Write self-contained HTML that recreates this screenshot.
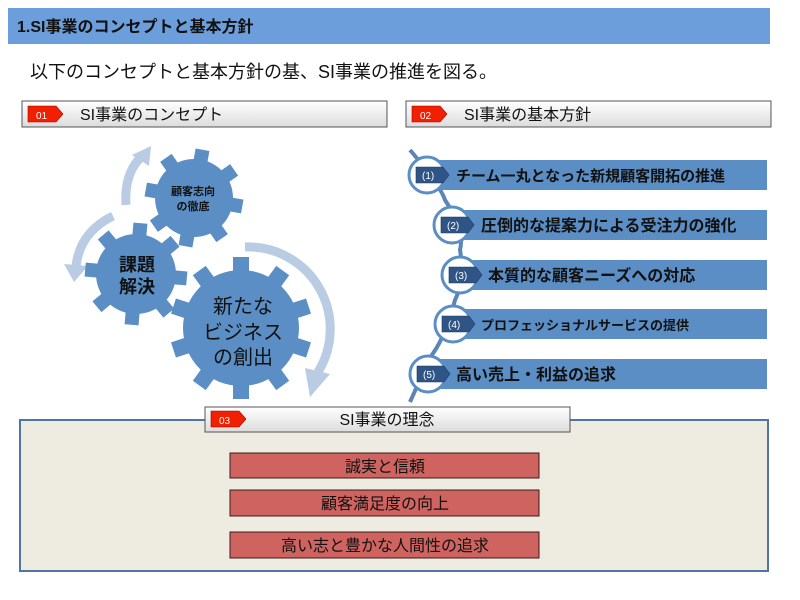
<!DOCTYPE html>
<html><head><meta charset="utf-8"><style>
body{margin:0;width:800px;height:600px;background:#fff;overflow:hidden}
svg{display:block}
text{font-family:"Liberation Sans","Noto Sans CJK JP",sans-serif}
</style></head><body>
<svg width="800" height="600" viewBox="0 0 800 600">
<defs>
<linearGradient id="hg" x1="0" y1="0" x2="0" y2="1"><stop offset="0" stop-color="#fff"/><stop offset="1" stop-color="#dcdcdc"/></linearGradient>
</defs>
<rect x="8" y="8" width="762" height="36" fill="#6b9edb"/>
<text x="17" y="32" font-size="16" font-weight="bold" fill="#111">1.SI事業のコンセプトと基本方針</text>
<text x="30" y="78" font-size="18" fill="#111">以下のコンセプトと基本方針の基、SI事業の推進を図る。</text>

<rect x="22" y="101" width="365" height="26" fill="url(#hg)" stroke="#555"/>
<polygon points="28,106 56,106 63,114 56,122 28,122" fill="#f02000" stroke="#a00" stroke-width="0.6"/>
<text x="36" y="119" font-size="10" fill="#fff">01</text>
<text x="80" y="120" font-size="16" fill="#111">SI事業のコンセプト</text>
<rect x="406" y="101" width="365" height="26" fill="url(#hg)" stroke="#555"/>
<polygon points="412,106 440,106 447,114 440,122 412,122" fill="#f02000" stroke="#a00" stroke-width="0.6"/>
<text x="420" y="119" font-size="10" fill="#fff">02</text>
<text x="464" y="120" font-size="16" fill="#111">SI事業の基本方針</text>

<g fill="none" stroke="#b9cce4" stroke-width="9">
<path d="M245,247 A82,82 0 0 1 318,372"/>
<path d="M113,216 Q80,232 76,266"/>
<path d="M126,205 Q124,175 140,158"/>
</g>
<g fill="#b9cce4">
<polygon points="305,368 330,374 310,397"/>
<polygon points="64,264 88,266 74,282"/>
<polygon points="132,155 149,166 151,146"/>
</g>

<g fill="#5b8ec4">
<g transform="translate(194,198) rotate(10)">
<circle r="39"/>
<rect x="-7" y="-49" width="14" height="16"/><rect x="-7" y="-49" width="14" height="16" transform="rotate(45)"/><rect x="-7" y="-49" width="14" height="16" transform="rotate(90)"/><rect x="-7" y="-49" width="14" height="16" transform="rotate(135)"/><rect x="-7" y="-49" width="14" height="16" transform="rotate(180)"/><rect x="-7" y="-49" width="14" height="16" transform="rotate(225)"/><rect x="-7" y="-49" width="14" height="16" transform="rotate(270)"/><rect x="-7" y="-49" width="14" height="16" transform="rotate(315)"/>
</g>
<g transform="translate(136,274) rotate(5)">
<circle r="40"/>
<rect x="-7" y="-51" width="14" height="16"/><rect x="-7" y="-51" width="14" height="16" transform="rotate(45)"/><rect x="-7" y="-51" width="14" height="16" transform="rotate(90)"/><rect x="-7" y="-51" width="14" height="16" transform="rotate(135)"/><rect x="-7" y="-51" width="14" height="16" transform="rotate(180)"/><rect x="-7" y="-51" width="14" height="16" transform="rotate(225)"/><rect x="-7" y="-51" width="14" height="16" transform="rotate(270)"/><rect x="-7" y="-51" width="14" height="16" transform="rotate(315)"/>
</g>
<g transform="translate(241,328)">
<circle r="58"/>
<rect x="-8" y="-71" width="16" height="20"/><rect x="-8" y="-71" width="16" height="20" transform="rotate(36)"/><rect x="-8" y="-71" width="16" height="20" transform="rotate(72)"/><rect x="-8" y="-71" width="16" height="20" transform="rotate(108)"/><rect x="-8" y="-71" width="16" height="20" transform="rotate(144)"/><rect x="-8" y="-71" width="16" height="20" transform="rotate(180)"/><rect x="-8" y="-71" width="16" height="20" transform="rotate(216)"/><rect x="-8" y="-71" width="16" height="20" transform="rotate(252)"/><rect x="-8" y="-71" width="16" height="20" transform="rotate(288)"/><rect x="-8" y="-71" width="16" height="20" transform="rotate(324)"/>
</g>
</g>
<g fill="#111" font-weight="bold" text-anchor="middle">
<text x="193" y="195" font-size="11">顧客志向</text>
<text x="193" y="210" font-size="11">の徹底</text>
<text x="137" y="271" font-size="18">課題</text>
<text x="137" y="293" font-size="18">解決</text>
<text x="243" y="313" font-size="20" font-weight="normal">新たな</text>
<text x="243" y="339" font-size="20" font-weight="normal">ビジネス</text>
<text x="243" y="364" font-size="20" font-weight="normal">の創出</text>
</g>

<path d="M410,150 Q440,185 445,200 Q465,230 460,250 Q465,280 455,300 Q445,340 428,360 Q420,380 410,402" fill="none" stroke="#5b84b8" stroke-width="4"/>
<g fill="#5b8ec4">
<rect x="427" y="160" width="340" height="30"/>
<rect x="452" y="210" width="315" height="30"/>
<rect x="460" y="260" width="307" height="30"/>
<rect x="453" y="309" width="314" height="30"/>
<rect x="428" y="359" width="339" height="30"/>
</g>
<g fill="#fff" stroke="#5b8ec4" stroke-width="3">
<circle cx="427" cy="175" r="18"/>
<circle cx="452" cy="225" r="18"/>
<circle cx="460" cy="275" r="18"/>
<circle cx="453" cy="324" r="18"/>
<circle cx="428" cy="374" r="18"/>
</g>
<g fill="#2f5586" stroke="#1e3a60" stroke-width="0.6">
<polygon points="416,167 443,167 449,175 443,183 416,183"/>
<polygon points="441,217 468,217 474,225 468,233 441,233"/>
<polygon points="449,267 476,267 482,275 476,283 449,283"/>
<polygon points="442,316 469,316 475,324 469,332 442,332"/>
<polygon points="417,366 444,366 450,374 444,382 417,382"/>
</g>
<g fill="#fff" font-size="10">
<text x="422" y="179">(1)</text><text x="447" y="229">(2)</text><text x="455" y="279">(3)</text><text x="448" y="328">(4)</text><text x="423" y="378">(5)</text>
</g>
<g fill="#111" font-weight="bold" font-size="16">
<text x="456" y="181" font-size="15">チーム一丸となった新規顧客開拓の推進</text>
<text x="481" y="231">圧倒的な提案力による受注力の強化</text>
<text x="488" y="281">本質的な顧客ニーズへの対応</text>
<text x="481" y="330" font-size="13">プロフェッショナルサービスの提供</text>
<text x="456" y="380">高い売上・利益の追求</text>
</g>

<rect x="20" y="420" width="748" height="151" fill="#eeece1" stroke="#4f75a8" stroke-width="2"/>
<rect x="205" y="407" width="365" height="25" fill="url(#hg)" stroke="#555"/>
<polygon points="211,411 239,411 246,419 239,427 211,427" fill="#f02000" stroke="#a00" stroke-width="0.6"/>
<text x="219" y="424" font-size="10" fill="#fff">03</text>
<text x="387" y="425" font-size="16" fill="#111" text-anchor="middle">SI事業の理念</text>
<g fill="#cf6360" stroke="#3a1a1a" stroke-width="1">
<rect x="230" y="453" width="309" height="25"/>
<rect x="230" y="490" width="309" height="26"/>
<rect x="230" y="532" width="309" height="26"/>
</g>
<g fill="#111" font-size="16" text-anchor="middle">
<text x="385" y="472">誠実と信頼</text>
<text x="385" y="509">顧客満足度の向上</text>
<text x="385" y="551">高い志と豊かな人間性の追求</text>
</g>
</svg>
</body></html>
